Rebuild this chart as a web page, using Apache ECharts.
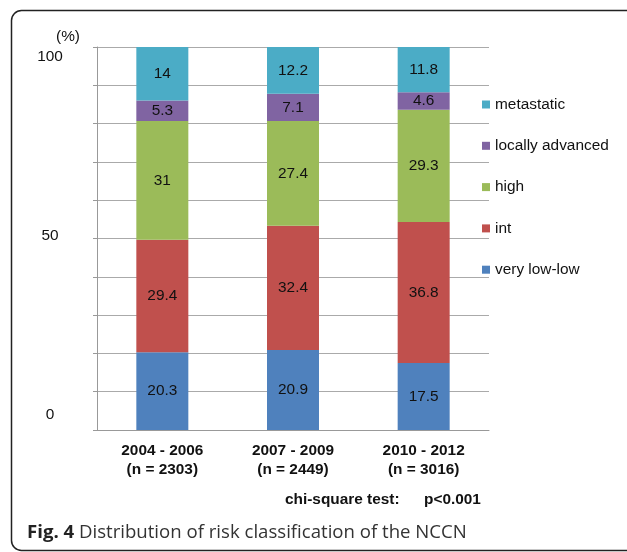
<!DOCTYPE html>
<html>
<head>
<meta charset="utf-8">
<script src="https://cdn.jsdelivr.net/npm/echarts@6/dist/echarts.min.js"></script>
<style>
html,body{margin:0;padding:0;background:#fff;overflow:hidden;}
#c{width:627px;height:552px;}
</style>
</head>
<body>
<div id="c"></div>
<script>
const categories = ['2004 - 2006\n(n = 2303)', '2007 - 2009\n(n = 2449)', '2010 - 2012\n(n = 3016)'];
const veryLowLow = [20.3, 20.9, 17.5];
const intRisk = [29.4, 32.4, 36.8];
const high = [31, 27.4, 29.3];
const locallyAdvanced = [5.3, 7.1, 4.6];
const metastatic = [14, 12.2, 11.8];
const seriesNames = ['very low-low', 'int', 'high', 'locally advanced', 'metastatic'];
const legendOrder = ['metastatic', 'locally advanced', 'high', 'int', 'very low-low'];
const yTickLabels = [0, 50, 100];

const colors = ['#4F81BD', '#C0504D', '#9BBB59', '#8064A2', '#4BACC6'];
const FONT = '"Liberation Sans", Arial, Helvetica, sans-serif';
const FS = 15.4;
const values = [veryLowLow, intRisk, high, locallyAdvanced, metastatic];

const chart = echarts.init(document.getElementById('c'), null, {renderer: 'canvas'});
const option = {
  animation: false,
  backgroundColor: '#fff',
  textStyle: {fontFamily: FONT},
  grid: {left: 97, right: 138, top: 47, bottom: 122, containLabel: false},
  legend: {
    orient: 'vertical',
    left: 482,
    top: 97,
    padding: 0,
    itemWidth: 8,
    itemHeight: 8,
    itemGap: 26.3,
    icon: 'rect',
    data: legendOrder,
    textStyle: {fontFamily: FONT, fontSize: FS, color: '#111'}
  },
  xAxis: {
    type: 'category',
    data: categories,
    axisLine: {show: true, lineStyle: {color: '#999', width: 1}},
    axisTick: {show: false},
    axisLabel: {
      fontFamily: FONT, fontSize: FS, fontWeight: 'bold', color: '#111',
      lineHeight: 19, margin: 11
    }
  },
  yAxis: {
    type: 'value',
    min: 0, max: 100, interval: 10,
    name: '(%)',
    nameLocation: 'end',
    nameGap: 3,
    nameTextStyle: {fontFamily: FONT, fontSize: FS, color: '#111', align: 'center', padding: [0, 0, 0, -58]},
    axisLine: {show: true, lineStyle: {color: '#999', width: 1}},
    axisTick: {show: true, inside: false, length: 4, lineStyle: {color: '#999'}},
    splitLine: {show: true, lineStyle: {color: '#aaa', width: 1}},
    axisLabel: {
      margin: 47,
      align: 'center',
      fontFamily: FONT, fontSize: FS, color: '#111',
      formatter: function (v) {
        if (!yTickLabels.includes(v)) return '';
        if (v === 100) return '{a|' + v + '}';
        if (v === 50) return '{b|' + v + '}';
        return '{c|' + v + '}';
      },
      rich: {
        a: {fontFamily: FONT, fontSize: FS, color: '#111', padding: [20, 0, 0, 0]},
        b: {fontFamily: FONT, fontSize: FS, color: '#111', padding: [0, 0, 6, 0]},
        c: {fontFamily: FONT, fontSize: FS, color: '#111', padding: [0, 0, 30, 0]}
      }
    }
  },
  series: seriesNames.map(function (name, i) {
    return {
      name: name,
      type: 'bar',
      stack: 'total',
      barWidth: 52,
      data: values[i],
      itemStyle: {color: colors[i]},
      label: {
        show: true,
        position: 'inside',
        fontFamily: FONT,
        fontSize: FS,
        color: '#111'
      }
    };
  }),
  graphic: [
    {
      type: 'rect',
      shape: {x: 11.5, y: 10.5, width: 720, height: 540, r: 10},
      style: {fill: 'none', stroke: '#222', lineWidth: 1.5},
      z: 100
    },
    {
      type: 'text',
      left: 285, top: 492,
      style: {text: 'chi-square test:', font: 'bold ' + FS + 'px ' + FONT, fill: '#111'}
    },
    {
      type: 'text',
      left: 424, top: 492,
      style: {text: 'p<0.001', font: 'bold ' + FS + 'px ' + FONT, fill: '#111'}
    },
    {
      type: 'text',
      left: 27, top: 523,
      style: {
        text: '{b|Fig. 4} Distribution of risk classification of the NCCN',
        font: '18.6px "Open Sans", sans-serif',
        fill: '#333',
        rich: {
          b: {fontFamily: '"Open Sans", sans-serif', fontWeight: 'bold', fontSize: 18.6, fill: '#222'}
        }
      }
    }
  ]
};
chart.setOption(option);
</script>
</body>
</html>
